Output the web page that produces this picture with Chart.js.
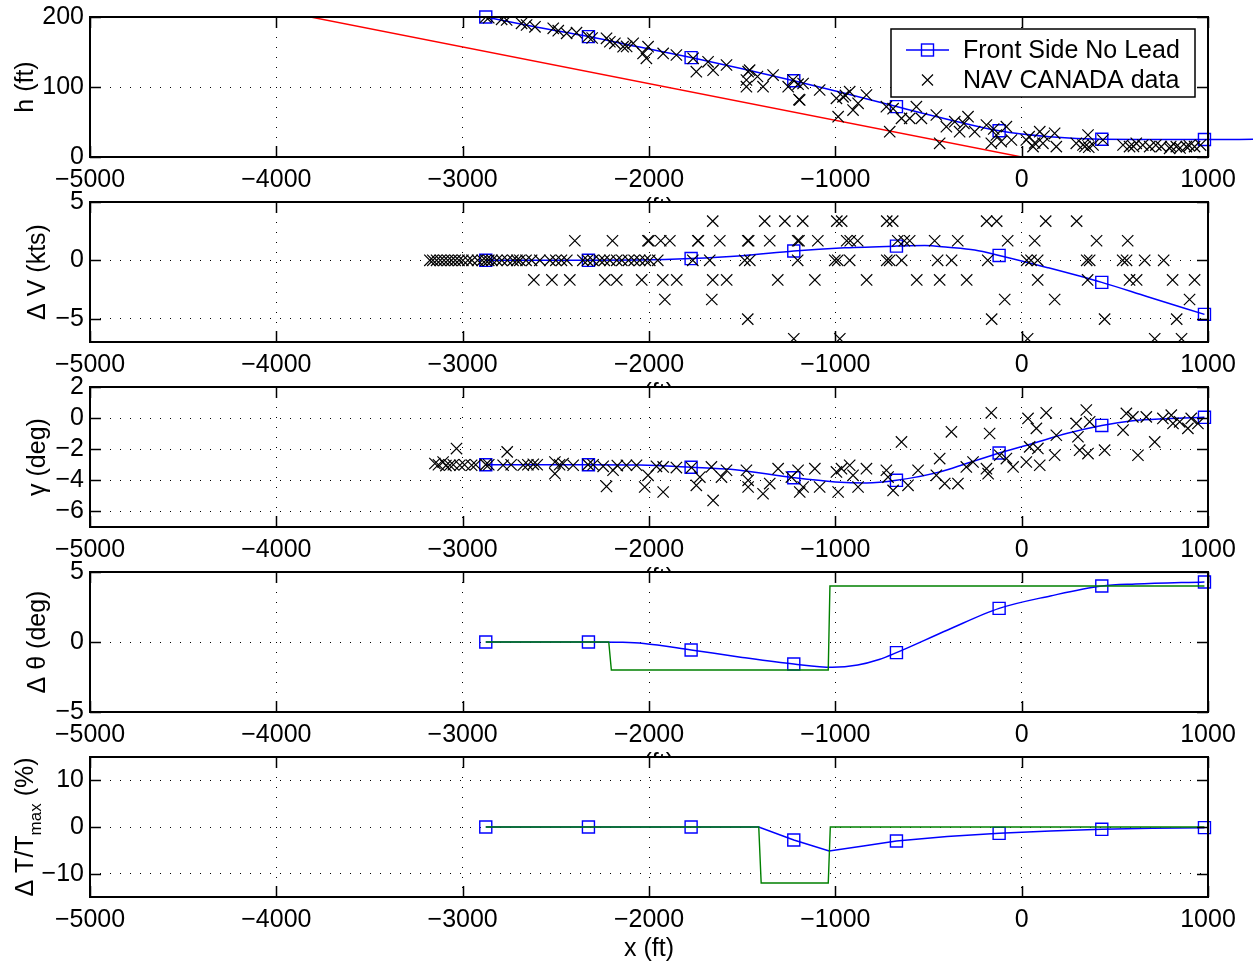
<!DOCTYPE html>
<html>
<head>
<meta charset="utf-8">
<script src="https://cdn.jsdelivr.net/npm/chart.js@4.4.0/dist/chart.umd.min.js"></script>
<style>
  body { margin: 0; background: #fff; width: 1253px; height: 965px; overflow: hidden; position: relative; }
  canvas { position: absolute; left: 0; }
</style>
</head>
<body>
<canvas id="p1" width="1253" height="230" style="top:0"></canvas>
<canvas id="p2" width="1253" height="230" style="top:185px"></canvas>
<canvas id="p3" width="1253" height="230" style="top:370px"></canvas>
<canvas id="p4" width="1253" height="230" style="top:555px"></canvas>
<canvas id="p5" width="1253" height="230" style="top:740px"></canvas>
<script>
// axis ticks
const xTicks = [-5000, -4000, -3000, -2000, -1000, 0, 1000];
const hTicks = [0, 100, 200];
const dvTicks = [-5, 0, 5];
const gammaTicks = [-6, -4, -2, 0, 2];
const thetaTicks = [-5, 0, 5];
const thrustTicks = [-10, 0, 10];

// x positions where the simulation curve gets a square marker
const markerX = [-2876, -2325, -1774, -1223, -672, -121, 430, 981];

// Front Side No Lead (simulation)
const hSimX = [-2876, -2600, -2325, -2050, -1774, -1500, -1223, -950, -672, -400, -121, 150, 430, 700, 981, 1260];
const hSimY = [200, 185.5, 172, 157, 142, 126, 109, 91, 72, 54, 37.5, 29, 25.3, 25, 25, 25.3];
const dvSimX = [-2876, -2600, -2325, -2050, -1774, -1500, -1223, -950, -672, -520, -396, -252, -121, 140, 430, 676, 981];
const dvSimY = [0, 0, 0, 0.02, 0.15, 0.4, 0.8, 1.07, 1.22, 1.27, 1.12, 0.88, 0.42, -0.63, -1.89, -3.12, -4.63];
const gammaSimX = [-2876, -2600, -2325, -2050, -1774, -1549, -1223, -1000, -833, -672, -440, -297, -121, 60, 240, 430, 596, 776, 981];
const gammaSimY = [-3, -3, -3, -3.02, -3.16, -3.31, -3.83, -4.1, -4.17, -4.0, -3.46, -2.92, -2.24, -1.63, -0.99, -0.47, -0.17, -0.04, 0.05];
const thetaSimX = [-2876, -2600, -2325, -2141, -2028, -1774, -1499, -1223, -1017, -880, -765, -672, -397, -121, 154, 430, 611, 981];
const thetaSimY = [0, 0, 0, -0.02, -0.1, -0.57, -1.1, -1.57, -1.8, -1.64, -1.25, -0.76, 0.86, 2.4, 3.29, 4.0, 4.14, 4.29];
const thrustSimX = [-2876, -2325, -1774, -1411, -1223, -1033, -850, -672, -400, -121, 154, 430, 700, 981];
const thrustSimY = [0, 0, 0, 0, -2.79, -5.14, -4.05, -3.0, -2.05, -1.36, -0.85, -0.5, -0.28, -0.14];

// 3 deg glide slope
const glideX = [-3816, 0];
const glideY = [200, 0];

// commanded pitch and thrust
const thetaCmdX = [-2876, -2216, -2202, -1038, -1029, 981];
const thetaCmdY = [0, 0, -2, -2, 4, 4];
const thrustCmdX = [-2876, -1411, -1398, -1038, -1027, 981];
const thrustCmdY = [0, 0, -12, -12, 0, 0];

// NAV CANADA data
const hNavX = [-2876, -2860, -2791, -2764, -2684, -2657, -2612, -2514, -2487, -2442, -2389, -2327, -2305, -2228, -2210, -2183,
  -2139, -2120, -2085, -2032, -2014, -2005, -1924, -1853, -1763, -1746, -1683, -1656, -1584, -1468, -1460, -1477, -1477, -1418,
  -1388, -1334, -1253, -1227, -1200, -1191, -1195, -1173, -1084, -994, -985, -959, -946, -923, -905, -878, -833, -726, -708,
  -690, -645, -601, -565, -538, -458, -440, -404, -359, -333, -310, -288, -252, -189, -163, -150, -136, -110, -82, -55, 25,
  40, 61, 70, 97, 114, 120, 177, 186, 293, 329, 340, 356, 360, 383, 436, 544, 579, 600, 615, 650, 687, 720, 749, 794, 800,
  830, 850, 884, 900, 928, 960];
const hNavY = [200, 199, 196.7, 195.7, 191, 188.6, 186, 183.8, 180.5, 176.7, 177.6, 171.9, 170, 169.5, 164.7, 162.4,
  157.6, 158, 162.4, 148, 141, 157.6, 148, 145.7, 141, 121.9, 136, 124, 131.4, 121.9, 124, 110, 100.5, 115,
  100.5, 117, 100.5, 110, 104, 81.4, 82, 105, 95.7, 83.8, 57.6, 86, 88, 93.3, 67, 76.7, 88.6, 71.9, 36.2,
  69, 55.2, 55.2, 71.9, 55.2, 60, 19.5, 43.3, 50.5, 36.2, 48, 57.6, 36.2, 45.7, 19.5, 40, 31.4, 22, 43.3, 24.3, 24.3,
  29, 14.8, 20, 36.2, 19.5, 30, 33.8, 14.8, 19.5, 17.1, 15, 31.4, 14, 17.1, 24.3, 17.1, 14.8, 15, 19.5, 17, 14.8, 17, 14.8, 12.4, 15,
  14.8, 13, 14.8, 16, 14.8, 17];

const dvNavX = [
  -3176, -3160, -3140, -3120, -3100, -3080, -3060, -3040, -3020, -2999, -2972, -2950, -2920, -2895, -2876, -2860, -2843,
  -2817, -2790, -2760, -2730, -2709, -2693, -2660, -2630, -2586, -2532, -2500, -2470, -2441, -2355, -2330, -2301, -2264,
  -2240, -2210, -2173, -2146, -2110, -2080, -2050, -2020, -1996, -1953, -1765, -1674, -1486, -1459, -1202, -1003, -987,
  -923, -724, -708, -644, -451, -376, -182, 27, 50, 86, 349, 365, 542, 563, 660, 762,
  -2398, -2196, -2006, -2000, -1937, -1888, -1738, -1735, -1620, -1470, -1465, -1352, -1202, -1195, -1094, -939, -920,
  -880, -665, -630, -601, -467, -343, -75, 70, 402, 569,
  -1658, -1379, -1271, -1175, -992, -966, -724, -692, -188, -134, 129, 295,
  -2618, -2521, -2425, -2237, -2173, -2039, -1926, -1851, -1658, -1583, -1309, -1110, -832, -563, -440, -295, 86, 354,
  579, 617, 810, 928,
  -1915, -1663, -91, 177, 901,
  -1470, -161, 445, 832,
  -1223, -976, 32, 714, 858];
const dvNavY = [
  0, 0, 0, 0, 0, 0, 0, 0, 0, 0, 0, 0, 0, 0, 0, 0, 0,
  0, 0, 0, 0, 0, 0, 0, 0, 0, 0, 0, 0, 0, 0, 0, 0, 0,
  0, 0, 0, 0, 0, 0, 0, 0, 0, 0, 0, 0, 0, 0, 0, 0, 0,
  0, 0, 0, 0, 0, 0, 0, 0, 0, 0, 0, 0, 0, 0, 0, 0,
  1.68, 1.68, 1.68, 1.68, 1.68, 1.68, 1.68, 1.68, 1.68, 1.68, 1.68, 1.68, 1.68, 1.68, 1.68, 1.68, 1.68,
  1.68, 1.68, 1.68, 1.68, 1.68, 1.68, 1.68, 1.68, 1.68, 1.68,
  3.36, 3.36, 3.36, 3.36, 3.36, 3.36, 3.36, 3.36, 3.36, 3.36, 3.36, 3.36,
  -1.68, -1.68, -1.68, -1.68, -1.68, -1.68, -1.68, -1.68, -1.68, -1.68, -1.68, -1.68, -1.68, -1.68, -1.68, -1.68, -1.68, -1.68,
  -1.68, -1.68, -1.68, -1.68,
  -3.36, -3.36, -3.36, -3.36, -3.36,
  -5.04, -5.04, -5.04, -5.04,
  -6.72, -6.72, -6.72, -6.72, -6.72];

const gammaNavX = [-3149, -3130, -3105, -3090, -3069, -3050, -3033, -3015, -2990, -2952, -2930, -2876, -2860, -2783, -2761,
  -2740, -2675, -2650, -2621, -2600, -2505, -2505, -2480, -2461, -2407, -2327, -2300, -2246, -2228, -2193, -2170, -2121,
  -2067, -2023, -2005, -1960, -1924, -1924, -1853, -1772, -1746, -1727, -1665, -1656, -1611, -1584, -1477, -1468, -1468,
  -1388, -1352, -1307, -1236, -1200, -1191, -1173, -1110, -1084, -994, -985, -967, -923, -905, -878, -833, -726, -717,
  -690, -645, -610, -556, -458, -440, -413, -377, -342, -297, -261, -189, -180, -172, -163, -118, -82, -46, 25, 34, 43,
  79, 87, 97, 132, 177, 186, 293, 302, 311, 347, 356, 365, 445, 544, 562, 597, 624, 669, 714, 758, 803, 812, 848, 892,
  910, 946];
const gammaNavY = [-2.92, -3.0, -2.82, -3.05, -3.03, -3.0, -1.96, -3.03, -3.0, -3.03, -3.0, -2.99, -3.0, -3.03, -2.17,
  -3.0, -3.03, -3.0, -2.97, -3.0, -2.82, -3.57, -3.0, -2.92, -3.03, -2.99, -3.0, -3.1, -4.39, -3.35, -3.05, -3.03,
  -3.03, -4.43, -3.68, -3.1, -3.14, -4.75, -3.18, -3.18, -4.32, -3.79, -3.14, -5.29, -3.79, -3.35, -3.35, -4.0, -4.43,
  -4.86, -4.21, -3.25, -3.79, -3.35, -4.75, -4.43, -3.25, -4.43, -3.46, -4.75, -3.25, -3.03, -3.68, -4.43, -3.25, -3.35, -3.79,
  -4.65, -1.53, -4.32, -3.35, -3.68, -2.6, -4.21, -0.88, -4.21, -3.14, -2.82, -3.25, -3.57, -0.99, 0.34, -2.39, -2.6, -3.14, -2.82, -0.02, -1.85,
  -0.66, -1.95, -3.03, 0.34, -2.39, -1.1, -0.34, -1.2, -2.06, 0.52, -2.28, -0.24, -2.06, -0.77, 0.3, 0.08, -2.39, 0.08, -1.53, -0.02, 0.19, -0.34, -0.24, -0.66,
  -0.02, -0.34];

const FONT = "'Liberation Sans', Arial, Helvetica, sans-serif";
const FONT_SIZE = 25;
const BLUE = '#0000ff';
const GREEN = '#008000';
const TICK_LEN = 11;

Chart.defaults.font.family = FONT;
Chart.defaults.font.size = FONT_SIZE;
Chart.defaults.color = '#000';

const pts = (xs, ys) => xs.map((x, i) => ({ x: x, y: ys[i] }));
const fmt = v => (v < 0 ? '\u2212' + Math.abs(v) : String(v));

function simSet(xs, ys, smooth) {
  return {
    label: 'Front Side No Lead',
    data: pts(xs, ys),
    showLine: true,
    borderColor: BLUE,
    borderWidth: 1.5,
    pointStyle: 'rect',
    pointRadius: ctx => (ctx.raw && markerX.includes(ctx.raw.x) ? 8.5 : 0),
    pointBorderColor: BLUE,
    pointBackgroundColor: 'rgba(0,0,0,0)',
    pointBorderWidth: 1.4,
    cubicInterpolationMode: smooth ? 'monotone' : 'default',
    tension: 0,
    capBezierPoints: false,
    clip: false
  };
}

function navSet(xs, ys) {
  return {
    label: 'NAV CANADA data',
    data: pts(xs, ys),
    showLine: false,
    pointStyle: 'crossRot',
    pointRadius: 8,
    borderColor: '#000',
    pointBorderColor: '#000',
    pointBorderWidth: 1.2,
    clip: 0
  };
}

function lineSet(xs, ys, color) {
  return {
    data: pts(xs, ys),
    showLine: true,
    borderColor: color,
    borderWidth: 1.4,
    pointRadius: 0,
    tension: 0
  };
}

// draws text rotated 90 deg, parts may carry a smaller size and a baseline shift (subscript)
function drawRotated(ctx, parts, x, cy) {
  let total = 0;
  parts.forEach(p => {
    ctx.font = (p.size || FONT_SIZE) + 'px ' + FONT;
    p.w = ctx.measureText(p.text).width;
    total += p.w;
  });
  ctx.save();
  ctx.translate(x, cy);
  ctx.rotate(-Math.PI / 2);
  ctx.textAlign = 'left';
  ctx.textBaseline = 'alphabetic';
  let pos = -total / 2;
  parts.forEach(p => {
    ctx.font = (p.size || FONT_SIZE) + 'px ' + FONT;
    ctx.fillText(p.text, pos, p.dy || 0);
    pos += p.w;
  });
  ctx.restore();
}

// MATLAB look: white axes, box, inward ticks, labels, legend
const matlabAxes = {
  id: 'matlabAxes',
  beforeDraw(chart) {
    const ctx = chart.ctx, a = chart.chartArea;
    ctx.save();
    ctx.fillStyle = '#fff';
    ctx.fillRect(a.left, a.top, a.right - a.left, a.bottom - a.top);
    ctx.restore();
  },
  afterDraw(chart, args, opts) {
    const ctx = chart.ctx, a = chart.chartArea, sx = chart.scales.x, sy = chart.scales.y;
    ctx.save();
    ctx.strokeStyle = '#000';
    ctx.lineWidth = 1.5;
    ctx.beginPath();
    sx.ticks.forEach(t => {
      const px = Math.round(sx.getPixelForValue(t.value)) + 0.5;
      ctx.moveTo(px, a.bottom); ctx.lineTo(px, a.bottom - TICK_LEN);
      ctx.moveTo(px, a.top); ctx.lineTo(px, a.top + TICK_LEN);
    });
    sy.ticks.forEach(t => {
      const py = Math.round(sy.getPixelForValue(t.value)) + 0.5;
      ctx.moveTo(a.left, py); ctx.lineTo(a.left + TICK_LEN, py);
      ctx.moveTo(a.right, py); ctx.lineTo(a.right - TICK_LEN, py);
    });
    ctx.stroke();
    ctx.lineWidth = 2;
    ctx.strokeRect(a.left, a.top, a.right - a.left, a.bottom - a.top);

    ctx.fillStyle = '#000';
    ctx.font = FONT_SIZE + 'px ' + FONT;
    ctx.textAlign = 'center';
    ctx.textBaseline = 'alphabetic';
    ctx.fillText('x (ft)', (a.left + a.right) / 2, a.bottom + 59);
    drawRotated(ctx, opts.ylabel, opts.ylabelX, (a.top + a.bottom) / 2);

    if (opts.legend) {
      const sim = chart.data.datasets[1], nav = chart.data.datasets[0];
      ctx.fillStyle = '#fff';
      ctx.fillRect(891, 29, 304, 68);
      ctx.lineWidth = 1.5;
      ctx.strokeStyle = '#000';
      ctx.strokeRect(891, 29, 304, 68);
      ctx.strokeStyle = BLUE;
      ctx.lineWidth = 1.4;
      ctx.beginPath();
      ctx.moveTo(906, 50); ctx.lineTo(949, 50);
      ctx.stroke();
      ctx.strokeRect(921.5, 44, 12, 12);
      ctx.strokeStyle = '#000';
      ctx.lineWidth = 1.2;
      ctx.beginPath();
      ctx.moveTo(922, 74.5); ctx.lineTo(933, 85.5);
      ctx.moveTo(933, 74.5); ctx.lineTo(922, 85.5);
      ctx.stroke();
      ctx.fillStyle = '#000';
      ctx.textAlign = 'left';
      ctx.textBaseline = 'middle';
      ctx.fillText(sim.label, 963, 51);
      ctx.fillText(nav.label, 963, 81);
    }
    ctx.restore();
  }
};

function panelOptions(yMin, yMax, yTicks, ylabel, ylabelX, legend) {
  return {
    responsive: false,
    animation: false,
    events: [],
    layout: { padding: { top: 17, right: 45, left: 0, bottom: 0 } },
    plugins: {
      legend: { display: false },
      tooltip: { enabled: false },
      matlabAxes: { ylabel: ylabel, ylabelX: ylabelX, legend: legend }
    },
    scales: {
      x: {
        type: 'linear',
        min: -5000,
        max: 1000,
        afterBuildTicks: s => { s.ticks = xTicks.map(v => ({ value: v })); },
        afterFit: s => { s.height = 73; s.paddingLeft = 0; s.paddingRight = 0; },
        grid: { color: '#000', lineWidth: 1, drawTicks: false },
        border: { display: false, dash: [1, 9] },
        ticks: { padding: 8, autoSkip: false, maxRotation: 0, callback: v => fmt(v) }
      },
      y: {
        type: 'linear',
        min: yMin,
        max: yMax,
        afterBuildTicks: s => { s.ticks = yTicks.map(v => ({ value: v })); },
        afterFit: s => { s.width = 90; s.paddingTop = 0; s.paddingBottom = 0; },
        grid: { color: '#000', lineWidth: 1, drawTicks: false },
        border: { display: false, dash: [1, 9] },
        ticks: { padding: 6, autoSkip: false, callback: v => fmt(v) }
      }
    }
  };
}

new Chart(document.getElementById('p1'), {
  type: 'scatter',
  data: { datasets: [navSet(hNavX, hNavY), simSet(hSimX, hSimY, true), lineSet(glideX, glideY, '#ff0000')] },
  options: panelOptions(0, 200, hTicks, [{ text: 'h (ft)' }], 33, true),
  plugins: [matlabAxes]
});

new Chart(document.getElementById('p2'), {
  type: 'scatter',
  data: { datasets: [navSet(dvNavX, dvNavY), simSet(dvSimX, dvSimY, true)] },
  options: panelOptions(-7, 5, dvTicks, [{ text: '\u0394 V (kts)' }], 45, false),
  plugins: [matlabAxes]
});

new Chart(document.getElementById('p3'), {
  type: 'scatter',
  data: { datasets: [navSet(gammaNavX, gammaNavY), simSet(gammaSimX, gammaSimY, true)] },
  options: panelOptions(-7, 2, gammaTicks, [{ text: '\u03b3 (deg)' }], 45, false),
  plugins: [matlabAxes]
});

new Chart(document.getElementById('p4'), {
  type: 'scatter',
  data: { datasets: [lineSet(thetaCmdX, thetaCmdY, GREEN), simSet(thetaSimX, thetaSimY, true)] },
  options: panelOptions(-5, 5, thetaTicks, [{ text: '\u0394 \u03b8 (deg)' }], 45, false),
  plugins: [matlabAxes]
});

new Chart(document.getElementById('p5'), {
  type: 'scatter',
  data: { datasets: [lineSet(thrustCmdX, thrustCmdY, GREEN), simSet(thrustSimX, thrustSimY, false)] },
  options: panelOptions(-15, 15, thrustTicks,
    [{ text: '\u0394 T/T' }, { text: 'max', size: 17, dy: 8 }, { text: ' (%)' }], 33, false),
  plugins: [matlabAxes]
});
</script>
</body>
</html>
